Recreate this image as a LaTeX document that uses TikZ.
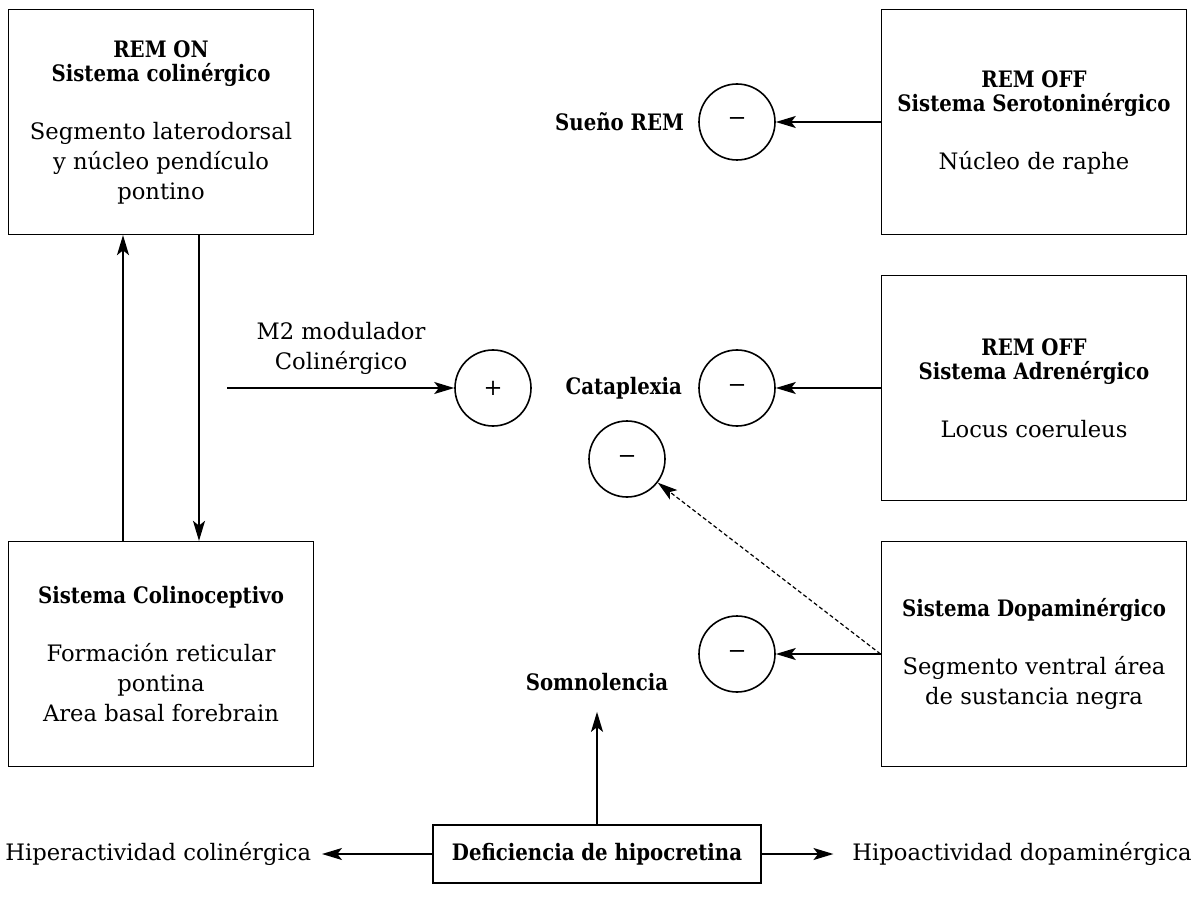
\documentclass[tikz,border=0pt]{standalone}
\usepackage{fontspec}
\setmainfont{DejaVu Serif}[BoldFeatures={FakeStretch=0.87}]
\usetikzlibrary{arrows.meta,positioning}

\begin{document}
\begin{tikzpicture}[x=0.75pt,y=-0.75pt,
  font=\fontsize{17}{22.5}\selectfont,
  box/.style={draw,line width=1.2pt,minimum width=229pt,minimum height=168.5pt,align=center,inner sep=0pt},
  sign/.style={draw,circle,line width=1.2pt,minimum size=57pt,inner sep=0pt},
  lbl/.style={inner sep=0pt,font=\fontsize{17}{22.5}\selectfont\bfseries},
  arr/.style={-{Stealth[length=15pt,width=9pt,inset=3.5pt]},line width=1.2pt}]
\useasboundingbox (0,0) rectangle (1202,905);

% systems
\node[box] (remon) at (161,122) {\textbf{REM ON}\\[-4.5pt]\textbf{Sistema colinérgico}\\[21pt]Segmento laterodorsal\\y núcleo pendículo\\pontino};
\node[box] (colino) at (161,654) {\textbf{Sistema Colinoceptivo}\\[21pt]Formación reticular\\pontina\\Area basal forebrain};
\node[box] (sero) at (1034,122) {\textbf{REM OFF}\\[-4.5pt]\textbf{Sistema Serotoninérgico}\\[21pt]Núcleo de raphe};
\node[box] (adre) at (1034,388) {\textbf{REM OFF}\\[-4.5pt]\textbf{Sistema Adrenérgico}\\[21pt]Locus coeruleus};
\node[box] (dopa) at (1034,654) {\textbf{Sistema Dopaminérgico}\\[21pt]Segmento ventral área\\de sustancia negra};

% signs
\node[sign] (sueno) at (737,122) {−};
\node[sign] (plus) at (493,388) {+};
\node[sign] (cata) at (737,388) {−};
\node[sign] (midminus) at (627,459) {−};
\node[sign] (dopaminus) at (737,654) {−};

\node[lbl,left=10.5pt of sueno] (suenolbl) {Sueño REM};
\node[lbl,left=12pt of cata] (catalbl) {Cataplexia};
\node[align=center,inner sep=0pt,anchor=south] (m2lbl) at (341,375) {M2 modulador\\Colinérgico};
\coordinate (m2) at (227,388);

% hipocretina
\node[draw,line width=1.2pt,minimum width=246pt,minimum height=43.5pt,inner sep=0pt,font=\fontsize{17}{22.5}\selectfont\bfseries] (defi) at (597,854) {Deficiencia de hipocretina};
\node[lbl,above=100pt of defi] (somno) {Somnolencia};
\node[inner sep=0pt,anchor=west] (hiper) at (5,854) {Hiperactividad colinérgica};
\node[inner sep=0pt] (hipo) at (1022,854) {Hipoactividad dopaminérgica};

\draw[arr] ([xshift=-28.5pt]colino.north) -- ([xshift=-28.5pt]remon.south);
\draw[arr] ([xshift=28.5pt]remon.south) -- ([xshift=28.5pt]colino.north);
\draw[arr] (m2) -- (plus);
\draw[arr] (sero) -- (sueno);
\draw[arr] (adre) -- (cata);
\draw[arr] (dopa) -- (dopaminus);
\draw[arr,line width=0.9pt,dash pattern=on 3pt off 2pt] (dopa.west) -- (midminus);
\draw[arr,shorten >=15.75pt] (defi) -- (somno);
\draw[arr,shorten >=8pt] (defi) -- (hiper);
\draw[arr,shorten >=14pt] (defi) -- (hipo);
\end{tikzpicture}
\end{document}
